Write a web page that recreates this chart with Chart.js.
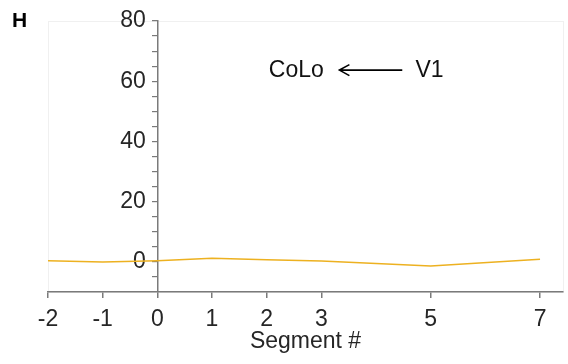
<!DOCTYPE html>
<html>
<head>
<meta charset="utf-8">
<script src="https://cdn.jsdelivr.net/npm/chart.js@4/dist/chart.umd.min.js"></script>
<style>
  html, body { margin: 0; padding: 0; background: #fff; }
  canvas { display: block; }
</style>
</head>
<body>
<canvas id="chart" width="568" height="364"></canvas>
<script>
// data
const segments = [-2, -1, 0, 1, 2, 3, 5, 7];
const values = [0.4, 0.0, 0.4, 1.2, 0.7, 0.3, -1.4, 0.9];
const xTicks = [-2, -1, 0, 1, 2, 3, 5, 7];
const yLabels = [0, 20, 40, 60, 80];

const FONT = '"Liberation Sans", Arial, Helvetica, sans-serif';
const TEXT = '#262626';
const AXIS = '#7a7a7a';

/* panel letter + arrow note + faint box round the plot */
const extras = {
  id: 'extras',
  beforeDraw(chart){
    const { ctx, chartArea: a } = chart;
    ctx.save();
    ctx.strokeStyle = '#f0f0f0';
    ctx.lineWidth = 1;
    ctx.strokeRect(a.left + 0.5, a.top + 0.5, a.right - a.left, a.bottom - a.top);
    ctx.restore();
  },
  afterDraw(chart){
    const { ctx, scales: { x, y } } = chart;
    ctx.save();
    ctx.fillStyle = '#000';
    ctx.font = 'bold 21px ' + FONT;
    ctx.textBaseline = 'alphabetic';
    ctx.fillText('H', 12, 27);

    const yy = y.getPixelForValue(63.7);
    ctx.font = '23px ' + FONT;
    ctx.fillStyle = '#111';
    ctx.textBaseline = 'middle';
    ctx.textAlign = 'left';
    ctx.fillText('CoLo', x.getPixelForValue(2.04), yy + 1);
    ctx.fillText('V1', x.getPixelForValue(4.72), yy + 1);

    // arrow pointing left
    const x0 = x.getPixelForValue(4.48), x1 = x.getPixelForValue(3.33);
    ctx.strokeStyle = '#000';
    ctx.lineWidth = 1.6;
    ctx.beginPath();
    ctx.moveTo(x0, yy); ctx.lineTo(x1, yy);
    ctx.moveTo(x1 + 10, yy - 5.5); ctx.lineTo(x1, yy); ctx.lineTo(x1 + 10, yy + 5.5);
    ctx.stroke();
    ctx.restore();
  }
};

new Chart(document.getElementById('chart'), {
  type: 'line',
  data: {
    datasets: [{
      data: segments.map((s, i) => ({ x: s, y: values[i] })),
      borderColor: '#EDB120',
      borderWidth: 1.5,
      pointRadius: 0,
      tension: 0,
      fill: false
    }]
  },
  options: {
    responsive: false,
    animation: false,
    layout: { padding: { left: 48, right: 5, top: 21, bottom: 11 } },
    plugins: { legend: { display: false }, tooltip: { enabled: false } },
    scales: {
      x: {
        type: 'linear',
        min: -2, max: 7.42,
        afterBuildTicks(axis){ axis.ticks = xTicks.map(v => ({ value: v })); },
        ticks: {
          color: TEXT, font: { family: FONT, size: 23, lineHeight: 1 }, padding: 10,
          maxRotation: 0, autoSkip: false,
          callback: v => String(v)
        },
        grid: { drawOnChartArea: false, drawTicks: true, tickLength: 6, tickColor: AXIS, lineWidth: 1.5 },
        border: { display: true, color: AXIS, width: 1.5 },
        title: { display: true, text: 'Segment #', color: TEXT, font: { family: FONT, size: 23, lineHeight: 1 }, padding: { top: -11, bottom: 0 } }
      },
      y: {
        position: { x: 0 },
        min: -10, max: 80,
        afterBuildTicks(axis){
          const t = [];
          for (let v = -5; v <= 80; v += 5) t.push({ value: v });
          axis.ticks = t;
        },
        ticks: {
          color: TEXT, font: { family: FONT, size: 23 },
          autoSkip: false,
          // axis sits at x = 0, so the label gap is given by a trailing en space
          callback: v => yLabels.includes(v) ? String(v) + '\u2002' : ''
        },
        grid: { drawOnChartArea: false, drawTicks: true, tickLength: 5, tickColor: AXIS, lineWidth: 1.2 },
        border: { display: true, color: AXIS, width: 1.5 }
      }
    }
  },
  plugins: [extras]
});
</script>
</body>
</html>
